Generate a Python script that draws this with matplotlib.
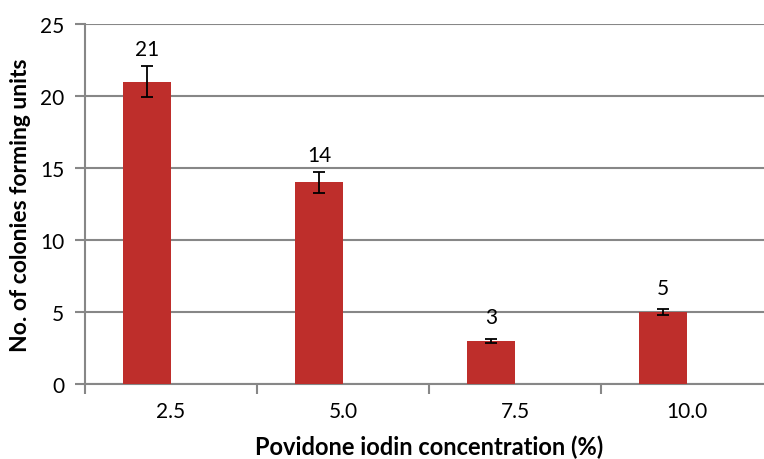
import numpy as np
import matplotlib
matplotlib.use("Agg")
import matplotlib.pyplot as plt

categories = ["2.5", "5.0", "7.5", "10.0"]
colonies = [21, 14, 3, 5]
errors = [1.05, 0.72, 0.15, 0.24]

BAR_COLOR = "#BE2E2B"
GRID = "#878787"
W = 0.28

plt.rcParams["font.family"] = ["Lato", "DejaVu Sans"]

fig = plt.figure(figsize=(7.64, 4.60), dpi=100)
ax = fig.add_axes([85 / 764, 75 / 460, 688 / 764, 360 / 460])

x = np.arange(len(categories))
xb = x - W / 2
ax.bar(xb, colonies, width=W, color=BAR_COLOR, zorder=3)
ax.errorbar(xb, colonies, yerr=errors, fmt="none", ecolor="black",
            elinewidth=1.3, capsize=4, capthick=1.3, zorder=4)
for xi, v, e in zip(xb, colonies, errors):
    ax.text(xi, max(v + 1.65, v + e + 1.2), str(v), ha="center", va="center",
            fontsize=15)

ax.set_xlim(-0.5, len(categories) - 0.5)
ax.set_ylim(0, 25)
ax.set_yticks(np.arange(0, 26, 5))
ax.yaxis.grid(True, color=GRID, linewidth=1.5, zorder=0)
ax.set_axisbelow(True)

# category boundary ticks, labels at the category centres
ax.set_xticks(np.arange(-0.5, len(categories), 1.0))
ax.set_xticklabels([])
ax.set_xticks(x, minor=True)
ax.set_xticklabels(categories, minor=True)
ax.tick_params(axis="x", which="major", length=7, width=1.5, color=GRID)
ax.tick_params(axis="x", which="minor", length=0, pad=12, labelsize=15)
ax.tick_params(axis="y", length=7, width=1.5, color=GRID, labelsize=15, pad=8)

for s in ["top", "right"]:
    ax.spines[s].set_visible(False)
for s in ["left", "bottom"]:
    ax.spines[s].set_color(GRID)
    ax.spines[s].set_linewidth(1.5)

ax.set_xlabel("Povidone iodin concentration (%)", fontsize=17, fontweight="bold")
ax.set_ylabel("No. of colonies forming units", fontsize=16.5, fontweight="bold")
ax.xaxis.set_label_coords(0.5, -0.172)
ax.yaxis.set_label_coords(-0.094, 0.5)
ax.xaxis.label.set_va("center")
ax.yaxis.label.set_va("center")

fig.savefig("out.png", dpi=100)
